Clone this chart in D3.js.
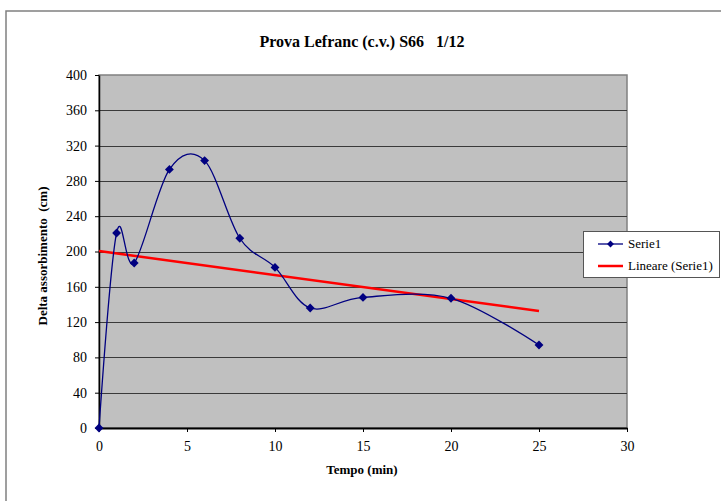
<!DOCTYPE html>
<html>
<head>
<meta charset="utf-8">
<script src="https://cdn.jsdelivr.net/npm/d3@7/dist/d3.min.js"></script>
<style>
  html, body { margin: 0; padding: 0; background: #fff; }
</style>
</head>
<body>
<svg id="chart" width="721" height="501"></svg>
<script>
// Measurements: time (min) and absorption delta (cm)
const tempo = [0, 1, 2, 4, 6, 8, 10, 12, 15, 20, 25];
const delta = [0, 221, 187, 293, 303, 215, 182, 136, 148, 147, 94];
const xTicks = [0, 5, 10, 15, 20, 25, 30];
const yTicks = [0, 40, 80, 120, 160, 200, 240, 280, 320, 360, 400];
const seriesNames = ["Serie1", "Lineare (Serie1)"];

const FONT = "'Liberation Serif', 'Times New Roman', Times, serif";
const svg = d3.select("#chart");
const plot = { left: 99, right: 627, top: 75, bottom: 428 };

const x = d3.scaleLinear().domain([0, 30]).range([plot.left, plot.right]);
const y = d3.scaleLinear().domain([0, 400]).range([plot.bottom, plot.top]);

// Outer chart frame (top and left edges visible)
svg.append("path")
  .attr("d", `M6,501 L6,11 L721,11`)
  .attr("fill", "none").attr("stroke", "#808080").attr("stroke-width", 1.5);

// Title
svg.append("text")
  .attr("x", 362).attr("y", 47)
  .attr("text-anchor", "middle")
  .attr("font-family", FONT)
  .attr("font-size", 16).attr("font-weight", "bold")
  .attr("xml:space", "preserve")
  .text("Prova Lefranc (c.v.) S66   1/12");

// Plot background
svg.append("rect")
  .attr("x", plot.left).attr("y", plot.top)
  .attr("width", plot.right - plot.left).attr("height", plot.bottom - plot.top)
  .attr("fill", "#c0c0c0").attr("stroke", "#808080").attr("stroke-width", 1.5);

// Horizontal gridlines
svg.append("g").selectAll("line")
  .data(yTicks.filter(v => v > 0 && v < 400))
  .join("line")
  .attr("x1", plot.left).attr("x2", plot.right)
  .attr("y1", d => Math.round(y(d)) + 0.5).attr("y2", d => Math.round(y(d)) + 0.5)
  .attr("stroke", "#3a3a3a").attr("stroke-width", 1);

// Axes
const yAxis = d3.axisLeft(y).tickValues(yTicks).tickSize(4).tickPadding(8).tickSizeOuter(0);
const gy = svg.append("g").attr("transform", `translate(${plot.left},0)`).call(yAxis)
  .attr("font-family", FONT);
gy.select(".domain").attr("stroke", "#000").attr("stroke-width", 1.5);
gy.selectAll(".tick line").attr("stroke", "#000");
gy.selectAll("text").attr("font-size", 14).attr("fill", "#000").attr("font-family", FONT);

const xAxis = d3.axisBottom(x).tickValues(xTicks).tickSize(4).tickPadding(9).tickSizeOuter(0);
const gx = svg.append("g").attr("transform", `translate(0,${plot.bottom})`).call(xAxis)
  .attr("font-family", FONT);
gx.select(".domain").attr("stroke", "#000").attr("stroke-width", 2);
gx.selectAll(".tick line").attr("stroke", "#000");
gx.selectAll("text").attr("font-size", 14).attr("fill", "#000").attr("font-family", FONT);

// Axis titles
svg.append("text")
  .attr("x", 362).attr("y", 474)
  .attr("text-anchor", "middle")
  .attr("font-family", FONT)
  .attr("font-size", 13).attr("font-weight", "bold")
  .text("Tempo (min)");

svg.append("text")
  .attr("transform", "translate(47,256) rotate(-90)")
  .attr("text-anchor", "middle")
  .attr("font-family", FONT)
  .attr("font-size", 13).attr("font-weight", "bold")
  .attr("xml:space", "preserve")
  .text("Delta assorbimento  (cm)");

// Linear trend (least squares) through the measurements
const pts = tempo.map((t, i) => [t, delta[i]]);
const mx = d3.mean(tempo), my = d3.mean(delta);
const sxy = d3.sum(pts, p => (p[0] - mx) * (p[1] - my));
const sxx = d3.sum(tempo, t => (t - mx) ** 2);
const slope = sxy / sxx, intercept = my - slope * mx;
const xMin = d3.min(tempo), xMax = d3.max(tempo);

svg.append("line")
  .attr("x1", x(xMin)).attr("y1", y(intercept + slope * xMin))
  .attr("x2", x(xMax)).attr("y2", y(intercept + slope * xMax))
  .attr("stroke", "#ff0000").attr("stroke-width", 2.5);

// Smoothed data line
const line = d3.line()
  .x(p => x(p[0])).y(p => y(p[1]))
  .curve(d3.curveCardinal.tension(0));
svg.append("path")
  .datum(pts)
  .attr("d", line)
  .attr("fill", "none").attr("stroke", "#000080").attr("stroke-width", 1.3);

// Diamond markers
const diamond = d3.symbol().type(d3.symbolDiamond2).size(50);
svg.append("g").selectAll("path")
  .data(pts)
  .join("path")
  .attr("transform", p => `translate(${x(p[0])},${y(p[1])})`)
  .attr("d", diamond)
  .attr("fill", "#000080");

// Legend
const lg = svg.append("g");
lg.append("rect")
  .attr("x", 583.5).attr("y", 231.5).attr("width", 136).attr("height", 46)
  .attr("fill", "#fff").attr("stroke", "#555").attr("stroke-width", 1);
lg.append("line")
  .attr("x1", 598).attr("x2", 623).attr("y1", 244).attr("y2", 244)
  .attr("stroke", "#000080").attr("stroke-width", 1.3);
lg.append("path")
  .attr("transform", "translate(610.5,244)")
  .attr("d", d3.symbol().type(d3.symbolDiamond2).size(30))
  .attr("fill", "#000080");
lg.append("line")
  .attr("x1", 598).attr("x2", 623).attr("y1", 266).attr("y2", 266)
  .attr("stroke", "#ff0000").attr("stroke-width", 2.5);
lg.selectAll("text.lbl")
  .data(seriesNames)
  .join("text")
  .attr("class", "lbl")
  .attr("x", 628).attr("y", (d, i) => 248 + i * 22)
  .attr("font-family", FONT)
  .attr("font-size", 13)
  .text(d => d);
</script>
</body>
</html>
